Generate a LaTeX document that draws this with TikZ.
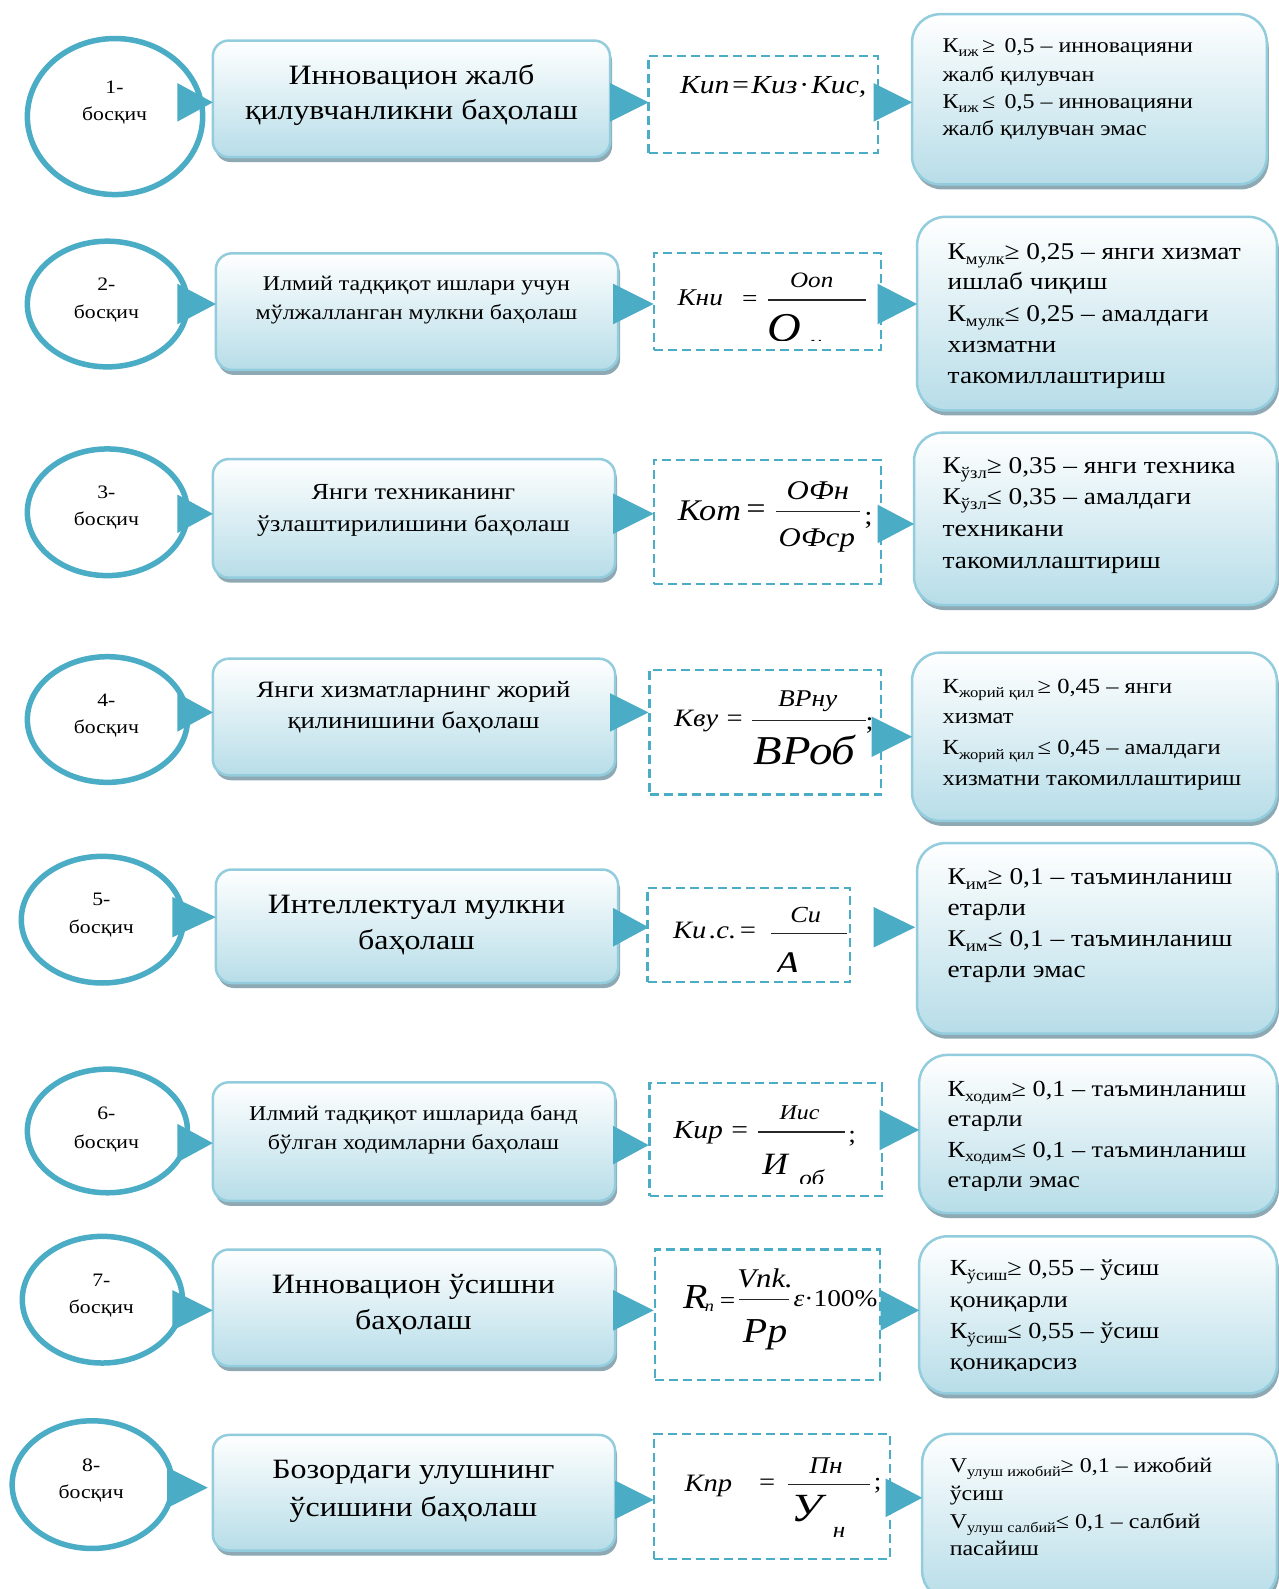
\documentclass[tikz,border=0pt]{standalone}
\usepackage{fontspec}
\setmainfont{Liberation Serif}[FakeStretch=1.14]
\usetikzlibrary{shapes.geometric,shadows}
\definecolor{accent}{HTML}{4BACC6}
\definecolor{boxline}{HTML}{93CDDD}
\definecolor{boxbot}{HTML}{B7DDE8}
\definecolor{shadowc}{HTML}{8EA9B3}
\newcommand\fz[1]{\fontsize{#1}{#1}\selectfont}
\newcommand\sbs[1]{\raisebox{-0.2em}{\scalebox{0.68}{#1}}}
\newcommand\arr[5]{\coordinate (#1) at (#2,#3); \fill[accent] (#1) -- ++(-#4,-#5) -- ++(0,{2*#5}) -- cycle;}
\newcommand\bx[6]{\node[#6, minimum width={(#4-#2)*1.0135pt}, minimum height={(#5-#3)*1.0135pt}] (#1) at ({(#2+#4)/2},{(#3+#5)/2}) {};}
\tikzset{
  stagec/.style={ellipse, draw=accent, line width=5.5pt, fill=white, inner sep=0pt},
  lbox/.style={rectangle, rounded corners=16pt, draw=boxline, line width=2.5pt, top color=white, bottom color=boxbot, drop shadow={shadow xshift=2pt, shadow yshift=-5pt, fill=shadowc, opacity=1}, inner sep=0pt},
  rbox/.style={lbox, rounded corners=28pt},
  dbox/.style={rectangle, draw=accent, line width=2.2pt, dash pattern=on 9pt off 5pt, inner sep=0pt},
  ct/.style={font=\fz{19}, anchor=base, inner sep=0pt},
  lt/.style={anchor=base, inner sep=0pt},
  rt/.style={anchor=base west, inner sep=0pt},
  fm/.style={anchor=base, inner sep=0pt},
  frl/.style={line width=1.2pt, draw=black!85}
}
\begin{document}
\begin{tikzpicture}[x=1.0135pt, y=-1.0135pt]
\fill[white] (0,0) rectangle (1262,1568);
\useasboundingbox (0,0) rectangle (1262,1568);

% ---------- boxes ----------
\bx{b1}{210}{40}{602}{155}{lbox}
\bx{r1}{900}{14}{1250}{182}{rbox}
\bx{d1}{640}{55}{866}{151}{dbox}
\bx{b2}{213}{250}{610}{365}{lbox}
\bx{r2}{905}{214}{1260}{405}{rbox}
\bx{d2}{645}{250}{869}{345}{dbox}
\bx{b3}{210}{453}{607}{570}{lbox}
\bx{r3}{902}{427}{1260}{597}{rbox}
\bx{d3}{645}{454}{869}{576}{dbox}
\bx{b4}{210}{650}{607}{765}{lbox}
\bx{r4}{900}{644}{1260}{810}{rbox}
\bx{d4}{641}{661}{869}{784}{dbox}
\bx{b5}{213}{858}{610}{970}{lbox}
\bx{r5}{905}{832}{1260}{1020}{rbox}
\bx{d5}{639}{876}{839}{969}{dbox}
\bx{b6}{210}{1068}{607}{1185}{lbox}
\bx{r6}{907}{1041}{1260}{1197}{rbox}
\bx{d6}{641}{1069}{870}{1180}{dbox}
\bx{b7}{210}{1233}{607}{1348}{lbox}
\bx{r7}{907}{1220}{1260}{1375}{rbox}
\bx{d7}{646}{1233}{868}{1362}{dbox}
\bx{b8}{210}{1416}{607}{1530}{lbox}
\bx{r8}{910}{1415}{1260}{1578}{rbox}
\bx{d8}{645}{1415}{878}{1538}{dbox}

% ---------- stage circles ----------
\bx{c1}{27}{38}{200}{192}{stagec}
\bx{c2}{27}{238}{185}{362}{stagec}
\bx{c3}{27}{443}{185}{568}{stagec}
\bx{c4}{27}{648}{185}{772}{stagec}
\bx{c5}{21}{845}{181}{970}{stagec}
\bx{c6}{27}{1055}{185}{1177}{stagec}
\bx{c7}{22}{1220}{180}{1345}{stagec}
\bx{c8}{12}{1402}{170}{1528}{stagec}

\node[ct] (c1n) at (113,92) {1-};   \node[ct] (c1b) at (113,119) {босқич};
\node[ct] (c2n) at (105,287) {2-};  \node[ct] (c2b) at (105,314) {босқич};
\node[ct] (c3n) at (105,492) {3-};  \node[ct] (c3b) at (105,519) {босқич};
\node[ct] (c4n) at (105,697) {4-};  \node[ct] (c4b) at (105,724) {босқич};
\node[ct] (c5n) at (100,894) {5-};  \node[ct] (c5b) at (100,921) {босқич};
\node[ct] (c6n) at (105,1105) {6-}; \node[ct] (c6b) at (105,1133) {босқич};
\node[ct] (c7n) at (100,1269) {7-}; \node[ct] (c7b) at (100,1296) {босқич};
\node[ct] (c8n) at (90,1452) {8-};  \node[ct] (c8b) at (90,1479) {босқич};

% ---------- left box texts ----------
\node[lt, font=\fz{28}] (b1a) at (406,83) {Инновацион жалб};
\node[lt, font=\fz{28}] (b1b) at (406,118) {қилувчанликни баҳолаш};
\node[lt, font=\fz{21}] (b2a) at (411,287) {Илмий тадқиқот ишлари учун};
\node[lt, font=\fz{21}] (b2b) at (411,315) {мўлжалланган мулкни баҳолаш};
\node[lt, font=\fz{23}] (b3a) at (408,493) {Янги техниканинг};
\node[lt, font=\fz{23}] (b3b) at (408,524) {ўзлаштирилишини баҳолаш};
\node[lt, font=\fz{23.5}] (b4a) at (408,688) {Янги хизматларнинг жорий};
\node[lt, font=\fz{23.5}] (b4b) at (408,719) {қилинишини баҳолаш};
\node[lt, font=\fz{28}] (b5a) at (411,901) {Интеллектуал мулкни};
\node[lt, font=\fz{28}] (b5b) at (411,937) {баҳолаш};
\node[lt, font=\fz{21}] (b6a) at (408,1106) {Илмий тадқиқот ишларида банд};
\node[lt, font=\fz{21}] (b6b) at (408,1134) {бўлган ходимларни баҳолаш};
\node[lt, font=\fz{28}] (b7a) at (408,1276) {Инновацион ўсишни};
\node[lt, font=\fz{28}] (b7b) at (408,1312) {баҳолаш};
\node[lt, font=\fz{28}] (b8a) at (408,1459) {Бозордаги улушнинг};
\node[lt, font=\fz{28}] (b8b) at (408,1496) {ўсишини баҳолаш};

% ---------- formulas ----------
\node[fm, font=\fz{26}\itshape] (f1) at (763,92) {Кип\kern1pt=\kern1pt Киз\kern2pt{\upshape·}\kern2pt Кис,};

\node[fm, font=\fz{24}\itshape] (f2a) at (691,301) {Кни};
\node[fm, font=\fz{24}] (f2e) at (740,302) {=};
\draw[frl] (758,296) -- (855,296);
\node[fm, font=\fz{22}\itshape] (f2n) at (801,284) {Ооп};
\begin{scope}
\clip (645,250) rectangle (869,335.5);
\node[fm, font=\fz{41}\itshape] (f2d) at (774,337) {О};
\node[fm, font=\fz{22}\itshape] (f2s) at (805,346) {н};
\end{scope}

\node[fm, font=\fz{30}\itshape] (f3a) at (700,514) {Кот};
\node[fm, font=\fz{30}] (f3e) at (746,512) {=};
\draw[frl] (766,505) -- (849,505);
\node[fm, font=\fz{27}\itshape] (f3n) at (807,493) {ОФн};
\node[fm, font=\fz{27}\itshape] (f3d) at (806,539) {ОФср};
\node[fm, font=\fz{26}] (f3s) at (857,518) {;};

\node[fm, font=\fz{25}\itshape] (f4a) at (687,717) {Кву};
\node[fm, font=\fz{25}] (f4e) at (725,717) {=};
\draw[frl] (742,711) -- (855,711);
\node[fm, font=\fz{24}\itshape] (f4n) at (797,697) {ВРну};
\node[fm, font=\fz{41}\itshape] (f4d) at (794,754) {ВРоб};
\node[fm, font=\fz{25}] (f4s) at (858,720) {;};

\node[fm, font=\fz{25}\itshape, anchor=base west] (f5a) at (664,926) {Ки\kern3pt.с.\kern2pt=};
\draw[frl] (761,921) -- (836,921);
\node[fm, font=\fz{23}\itshape] (f5n) at (795,910) {Си};
\begin{scope}
\clip (639,876) rectangle (839,959);
\node[fm, font=\fz{36}\itshape] (f5d) at (777,964) {А};
\node[fm, font=\fz{20}\itshape] (f5s) at (807,971) {ои};
\end{scope}

\node[fm, font=\fz{26}\itshape] (f6a) at (689,1123) {Кир};
\node[fm, font=\fz{26}] (f6e) at (730,1123) {=};
\draw[frl] (748,1117) -- (834,1117);
\node[fm, font=\fz{21}\itshape] (f6n) at (789,1105) {Иис};
\node[fm, font=\fz{24}] (f6s) at (841,1127) {;};
\begin{scope}
\clip (641,1069) rectangle (870,1168);
\node[fm, font=\fz{31}\itshape] (f6d) at (765,1159) {И};
\node[fm, font=\fz{22}\itshape] (f6b) at (801,1170) {об};
\end{scope}

\node[fm, font=\fz{35}\itshape] (f7a) at (686,1291) {R};
\node[fm, font=\fz{16}\itshape] (f7b) at (700,1294) {n};
\node[fm, font=\fz{24}] (f7e) at (718,1291) {=};
\draw[frl] (729,1282) -- (779,1282);
\node[fm, font=\fz{27}\itshape] (f7n) at (755,1270) {Vnk.};
\node[fm, font=\fz{35}\itshape] (f7d) at (755,1325) {Pp};
\node[fm, font=\fz{24}, anchor=base west] (f7c) at (783,1289) {{\itshape ε}·100\%};

\node[fm, font=\fz{25}\itshape] (f8a) at (699,1472) {Кпр};
\node[fm, font=\fz{25}] (f8e) at (757,1471) {=};
\draw[frl] (778,1465) -- (858,1465);
\node[fm, font=\fz{24}\itshape] (f8n) at (815,1454) {Пн};
\node[fm, font=\fz{40}\itshape] (f8d) at (796,1501) {У};
\node[fm, font=\fz{22}\itshape] (f8s) at (828,1517) {н};
\node[fm, font=\fz{24}] (f8c) at (866,1470) {;};

% ---------- right box texts ----------
\node[rt, font=\fz{21}] (r1a) at (930,52) {К\sbs{иж}\,≥\, 0,5 – инновацияни};
\node[rt, font=\fz{21}] (r1b) at (930,80) {жалб қилувчан};
\node[rt, font=\fz{21}] (r1c) at (930,107) {К\sbs{иж}\,≤\, 0,5 – инновацияни};
\node[rt, font=\fz{21}] (r1d) at (930,134) {жалб қилувчан эмас};

\node[rt, font=\fz{24}] (r2a) at (935,256) {К\sbs{мулк}≥ 0,25 – янги хизмат};
\node[rt, font=\fz{24}] (r2b) at (935,286) {ишлаб чиқиш};
\node[rt, font=\fz{24}] (r2c) at (935,317) {К\sbs{мулк}≤ 0,25 – амалдаги};
\node[rt, font=\fz{24}] (r2d) at (935,348) {хизматни};
\node[rt, font=\fz{24}] (r2e) at (935,378) {такомиллаштириш};

\node[rt, font=\fz{24}] (r3a) at (930,467) {К\sbs{ўзл}≥ 0,35 – янги техника};
\node[rt, font=\fz{24}] (r3b) at (930,498) {К\sbs{ўзл}≤ 0,35 – амалдаги};
\node[rt, font=\fz{24}] (r3c) at (930,529) {техникани};
\node[rt, font=\fz{24}] (r3d) at (930,561) {такомиллаштириш};

\node[rt, font=\fz{21.5}] (r4a) at (930,684) {К\sbs{жорий қил}\,≥ 0,45 – янги};
\node[rt, font=\fz{21.5}] (r4b) at (930,714) {хизмат};
\node[rt, font=\fz{21.5}] (r4c) at (930,745) {К\sbs{жорий қил}\,≤ 0,45 – амалдаги};
\node[rt, font=\fz{21.5}] (r4d) at (930,775) {хизматни такомиллаштириш};

\node[rt, font=\fz{24}] (r5a) at (935,873) {К\sbs{им}≥ 0,1 – таъминланиш};
\node[rt, font=\fz{24}] (r5b) at (935,903) {етарли};
\node[rt, font=\fz{24}] (r5c) at (935,934) {К\sbs{им}≤ 0,1 – таъминланиш};
\node[rt, font=\fz{24}] (r5d) at (935,965) {етарли эмас};

\node[rt, font=\fz{23}] (r6a) at (935,1082) {К\sbs{ходим}≥ 0,1 – таъминланиш};
\node[rt, font=\fz{23}] (r6b) at (935,1112) {етарли};
\node[rt, font=\fz{23}] (r6c) at (935,1142) {К\sbs{ходим}≤ 0,1 – таъминланиш};
\begin{scope}
\clip (907,1150) rectangle (1260,1175);
\node[rt, font=\fz{23}] (r6d) at (935,1172) {етарли эмас};
\end{scope}

\node[rt, font=\fz{23}] (r7a) at (937,1259) {К\sbs{ўсиш}≥ 0,55 – ўсиш};
\node[rt, font=\fz{23}] (r7b) at (937,1290) {қониқарли};
\node[rt, font=\fz{23}] (r7c) at (937,1321) {К\sbs{ўсиш}≤ 0,55 – ўсиш};
\begin{scope}
\clip (907,1325) rectangle (1260,1352);
\node[rt, font=\fz{23}] (r7d) at (937,1351) {қониқарсиз};
\end{scope}

\node[rt, font=\fz{21}] (r8a) at (937,1453) {V\sbs{улуш ижобий}≥ 0,1 – ижобий};
\node[rt, font=\fz{21}] (r8b) at (937,1481) {ўсиш};
\node[rt, font=\fz{21}] (r8c) at (937,1508) {V\sbs{улуш салбий}≤ 0,1 – салбий};
\node[rt, font=\fz{21}] (r8d) at (937,1535) {пасайиш};

% ---------- arrow triangles ----------
\arr{t1a}{210}{101}{35}{19}
\arr{t1b}{640}{101}{38}{19}
\arr{t1c}{900}{101}{38}{19}
\arr{t2a}{213}{300}{38}{20}
\arr{t2b}{645}{300}{40}{20}
\arr{t2c}{905}{300}{39}{20}
\arr{t3a}{210}{507}{35}{19}
\arr{t3b}{645}{507}{40}{20}
\arr{t3c}{902}{517}{36}{19}
\arr{t4a}{210}{703}{35}{19}
\arr{t4b}{640}{703}{38}{19}
\arr{t4c}{900}{727}{40}{20}
\arr{t5a}{213}{905}{43}{20}
\arr{t5b}{640}{915}{35}{19}
\arr{t5c}{903}{915}{41}{20}
\arr{t6a}{210}{1128}{35}{19}
\arr{t6b}{640}{1130}{35}{19}
\arr{t6c}{907}{1115}{39}{20}
\arr{t7a}{210}{1293}{40}{20}
\arr{t7b}{645}{1293}{40}{20}
\arr{t7c}{907}{1293}{38}{20}
\arr{t8a}{205}{1468}{40}{20}
\arr{t8b}{645}{1480}{38}{19}
\arr{t8c}{910}{1478}{36}{19}
\end{tikzpicture}
\end{document}
